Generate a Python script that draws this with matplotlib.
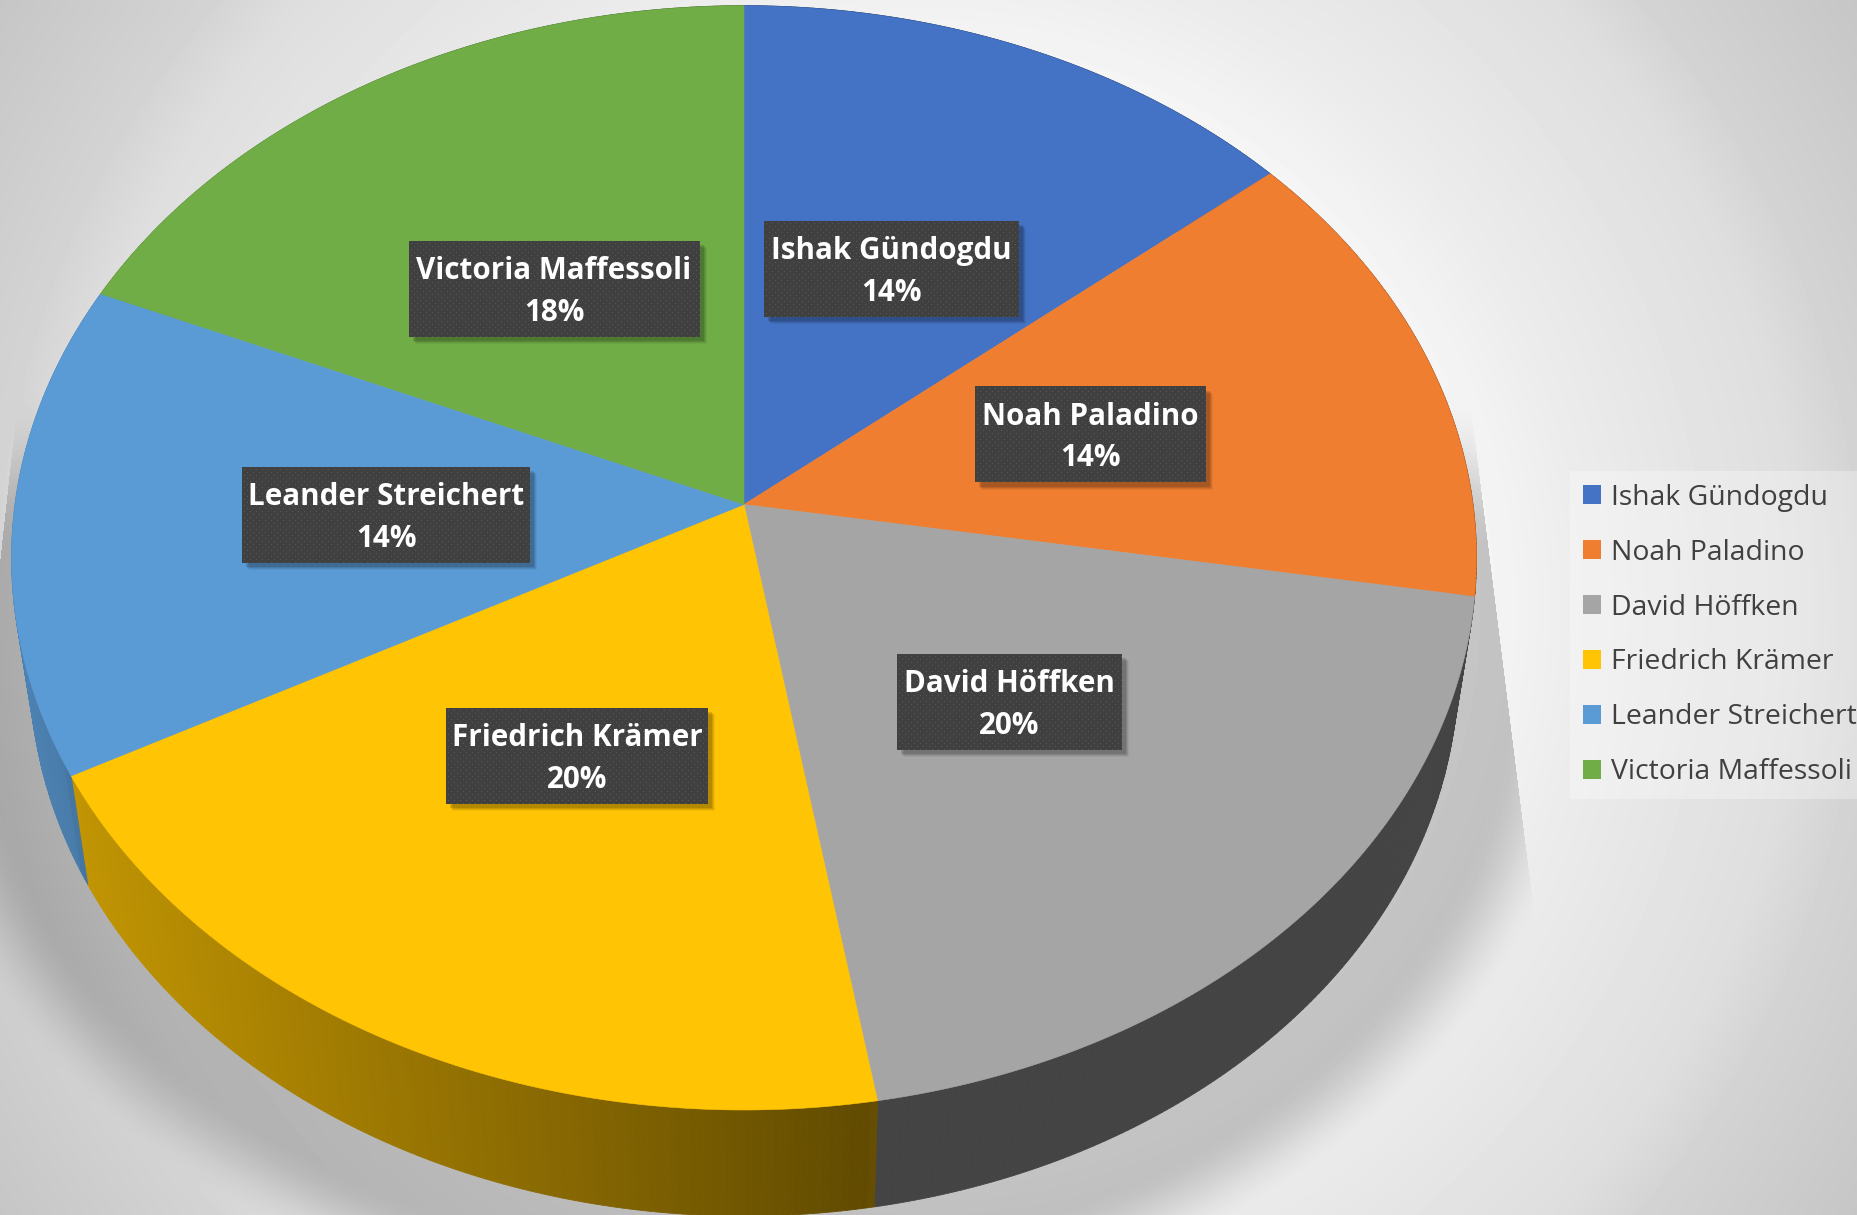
import numpy as np
import matplotlib.pyplot as plt
from matplotlib.patches import Rectangle, Patch
from matplotlib.colors import to_rgb

names = ["Ishak Gündogdu", "Noah Paladino", "David Höffken", "Friedrich Krämer", "Leander Streichert", "Victoria Maffessoli"]
values = [13.9, 13.75, 19.7, 19.8, 14.4, 18.45]
percent_labels = ["14%", "14%", "20%", "20%", "14%", "18%"]
colors = ["#4472c4", "#ef7e31", "#a5a5a5", "#ffc403", "#5b9bd5", "#70ad47"]
label_x = [891.5, 1090.5, 1009, 577, 386, 554]
label_y = [269, 434.5, 702, 756, 515, 289]
box_w = [255, 231, 225, 262, 288, 291]

W, H = 1857, 1215
K = 0.0966
TOP = (744, 504.5, 729, 547)
BOTTOM = (744, 615, 711, 543)


def project(theta, disc):
    # theta clockwise from 12 o'clock
    cx, cy, rx, ry = disc
    x = np.sin(theta)
    y = np.cos(theta)
    w = 1 + K * y
    return cx + rx * x / w, cy - ry * y / w


def smooth(t):
    t = np.clip(t, 0, 1)
    return t * t * (3 - 2 * t)


def make_background():
    yy, xx = np.mgrid[0:H, 0:W]
    d = np.hypot(xx - 928, yy - 607)
    bg = np.interp(d, [0, 500, 556, 654, 873, 939, 1106], [255, 249, 245, 236, 222, 211, 198])

    # soft shadow under the pie, cut off along straight lines at the sides
    cx, cy, rx, ry = BOTTOM
    px = (xx - cx) / rx
    py = (cy - yy) / ry
    dy = py / (1 - K * py)
    dx = px * (1 + K * dy)
    rad = np.hypot(dx, dy)
    shade = smooth((1.185 - rad) / 0.12)
    shade = shade * smooth((yy - 380) / 170)
    right_cut = 1467 + (yy - 380) * 60 / 480
    left_cut = 20 - (yy - 375) * 18 / 165
    shade = np.where((xx > right_cut) | (xx < left_cut), 0, shade)
    img = bg * (1 - 0.2 * shade)
    return np.clip(img, 0, 255) / 255


def side_factor(x):
    return np.interp(x, [20, 72, 73, 872, 873, 1500], [0.84, 0.8, 0.76, 0.38, 0.41, 0.41])


def draw_side(ax, start, end, color):
    edges = np.linspace(start, end, int(np.degrees(end - start)) * 2 + 2)
    rgb = np.array(to_rgb(color))
    for a, b in zip(edges[:-1], edges[1:]):
        t = np.array([a, b])
        xt, yt = project(t, TOP)
        xb, yb = project(t, BOTTOM)
        f = side_factor((xt.mean() + xb.mean()) / 2)
        ax.fill([xt[0], xt[1], xb[1], xb[0]], [yt[0], yt[1], yb[1], yb[0]],
                color=tuple(rgb * f), lw=0.6, zorder=2)


def draw_label(ax, x, y, w, name, pct):
    h = 96
    for off, alpha in [(7, 0.05), (6, 0.07), (5, 0.09), (4, 0.12)]:
        ax.add_patch(Rectangle((x - w / 2 + off, y - h / 2 + off), w, h, color="black", alpha=alpha, lw=0, zorder=5))
    tex = np.full((h, int(w), 3), 0x40 / 255)
    tex[2::6, 2::6] = 0x58 / 255
    tex[5::6, 5::6] = 0x58 / 255
    ax.imshow(tex, extent=(x - w / 2, x + w / 2, y + h / 2, y - h / 2), zorder=6, interpolation="nearest", aspect="auto")
    ax.text(x, y + 3, name + "\n" + pct, color="white", fontsize=21.3, fontweight="bold", ha="center", va="center",
            linespacing=1.5, family="Open Sans", zorder=7)


fig = plt.figure(figsize=(W / 100, H / 100), dpi=100)
ax = fig.add_axes([0, 0, 1, 1])
ax.imshow(make_background(), cmap="gray", vmin=0, vmax=1, extent=(0, W, H, 0), aspect="auto", zorder=0)

bounds = np.concatenate([[0], np.cumsum(values)]) / np.sum(values) * 2 * np.pi
for i, c in enumerate(colors):
    draw_side(ax, bounds[i], bounds[i + 1], c)
for i, c in enumerate(colors):
    t = np.linspace(bounds[i], bounds[i + 1], 200)
    xs, ys = project(t, TOP)
    ax.fill(np.r_[TOP[0], xs], np.r_[TOP[1], ys], color=c, lw=0.4, zorder=3)

for i in range(len(names)):
    draw_label(ax, label_x[i], label_y[i], box_w[i], names[i], percent_labels[i])

handles = [Patch(facecolor=c, edgecolor="none") for c in colors]
leg = ax.legend(handles, names, loc="center left", bbox_to_anchor=(1570, 635), bbox_transform=ax.transData,
                borderaxespad=0, borderpad=0.45, handlelength=0.65, handleheight=0.65,
                handletextpad=0.35, labelspacing=0.95, fancybox=False, labelcolor="#404040",
                prop={"family": "Open Sans", "size": 20.4})
leg.get_frame().set(facecolor="white", alpha=0.3, edgecolor="none")
leg.set_zorder(8)

ax.set_xlim(0, W)
ax.set_ylim(H, 0)
ax.axis("off")
fig.savefig("out.png", dpi=100)
